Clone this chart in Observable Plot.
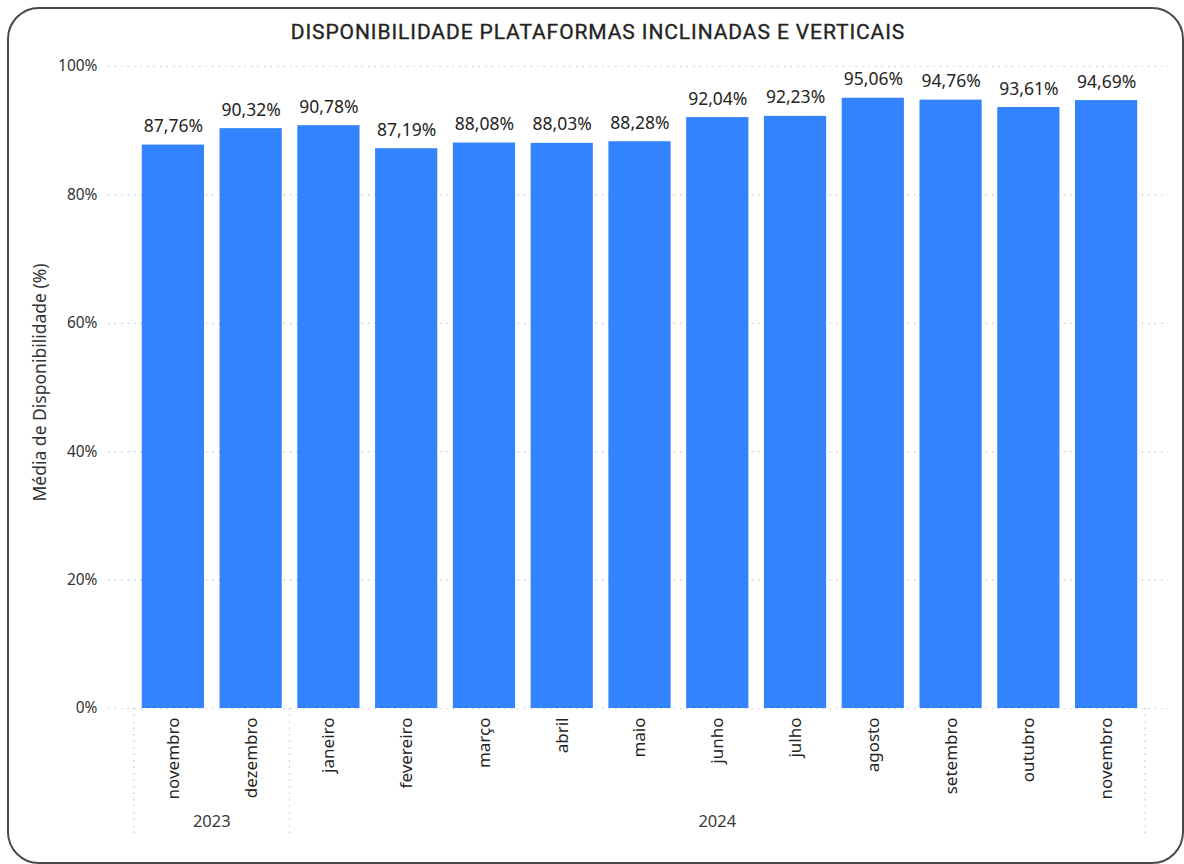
<!DOCTYPE html>
<html><head><meta charset="utf-8">
<script src="https://cdn.jsdelivr.net/npm/d3@7"></script>
<script src="https://cdn.jsdelivr.net/npm/@observablehq/plot@0.6"></script>
<style>
body{margin:0;background:#fff;}
#wrap{position:relative;width:1184px;height:864px;overflow:hidden;font-family:"Noto Sans",sans-serif;}
#card{position:absolute;left:7px;top:7px;width:1177px;height:857px;border:2px solid #4a4a4a;border-radius:32px;box-sizing:border-box;}
#title{position:absolute;left:0;top:20px;width:1196px;text-align:center;font:400 21px Roboto,sans-serif;letter-spacing:0.9px;color:#252423;-webkit-text-stroke:0.35px #252423;}
#chart{position:absolute;left:0;top:56px;}
</style></head><body>
<div id="wrap"><div id="card"></div><div id="title"></div><div id="chart"></div></div>
<script>
const title = "DISPONIBILIDADE PLATAFORMAS INCLINADAS E VERTICAIS";
const yLabel = "Média de Disponibilidade (%)";
const years = ["2023","2023","2024","2024","2024","2024","2024","2024","2024","2024","2024","2024","2024"];
const months = ["novembro","dezembro","janeiro","fevereiro","março","abril","maio","junho","julho","agosto","setembro","outubro","novembro"];
const values = [87.76, 90.32, 90.78, 87.19, 88.08, 88.03, 88.28, 92.04, 92.23, 95.06, 94.76, 93.61, 94.69];
const yTicks = [0, 20, 40, 60, 80, 100];

document.getElementById("title").textContent = title;

const data = months.map((m, i) => ({key: years[i] + "-" + i, month: m, year: years[i], value: values[i]}));
const monthOf = new Map(data.map(d => [d.key, d.month]));
const fmt = v => v.toFixed(2).replace(".", ",") + "%";
const groups = d3.groups(data, d => d.year).map(([year, rows]) => ({year, first: rows[0].key, last: rows[rows.length - 1].key}));

function yearGroups(index, scales, values, dims) {
  const x = scales.x;
  const keys = x.domain();
  const bw = x.bandwidth();
  const step = x(keys[1]) - x(keys[0]);
  const half = (step - bw) / 2;
  const y0 = dims.height - dims.marginBottom;
  const g = d3.create("svg:g");
  const bounds = new Set();
  groups.forEach(gr => {
    const l = x(gr.first) - half, r = x(gr.last) + bw + half;
    bounds.add(l); bounds.add(r);
    g.append("text").attr("x", (l + r) / 2).attr("y", y0 + 115)
      .attr("text-anchor", "middle").attr("dominant-baseline", "middle")
      .attr("font-size", 16.5).attr("fill", "#3b3a39").text(gr.year);
  });
  bounds.forEach(b => {
    g.append("line").attr("x1", b).attr("x2", b).attr("y1", y0).attr("y2", y0 + 130)
      .attr("stroke", "#c8c8c8").attr("stroke-dasharray", "1.5,5").attr("stroke-width", 1.2);
  });
  return g.node();
}

const chart = Plot.plot({
  width: 1184, height: 808,
  marginTop: 10, marginBottom: 156, marginLeft: 108, marginRight: 16,
  style: {fontFamily: "'Noto Sans', sans-serif", fontSize: "16px", color: "#3b3a39", background: "transparent", overflow: "visible"},
  x: {type: "band", domain: data.map(d => d.key), paddingInner: 0.2, paddingOuter: 0.1, round: false, insetLeft: 26, insetRight: 23, label: null},
  y: {domain: [0, 100], label: null},
  marks: [
    Plot.ruleY(yTicks, {stroke: "#c8c8c8", strokeDasharray: "1.5,5", strokeWidth: 1.2}),
    Plot.barY(data, {x: "key", y: "value", fill: "#3383ff"}),
    Plot.text(data, {x: "key", y: "value", text: d => fmt(d.value), dy: -13, lineAnchor: "bottom", fontSize: 17.5, fill: "#252423"}),
    Plot.axisY({ticks: yTicks, tickFormat: d => d + "%", tickSize: 0, tickPadding: 11, fontSize: 15.5, fill: "#333", label: null}),
    Plot.axisX({tickFormat: k => monthOf.get(k), tickRotate: -90, tickSize: 0, tickPadding: 9, fontSize: 17, fill: "#252423", label: null}),
    Plot.text([yLabel], {frameAnchor: "left", textAnchor: "middle", dx: -68, dy: -5, rotate: -90, fontSize: 17.5, fill: "#333"}),
    yearGroups
  ]
});
document.getElementById("chart").appendChild(chart);
</script>
</body></html>
